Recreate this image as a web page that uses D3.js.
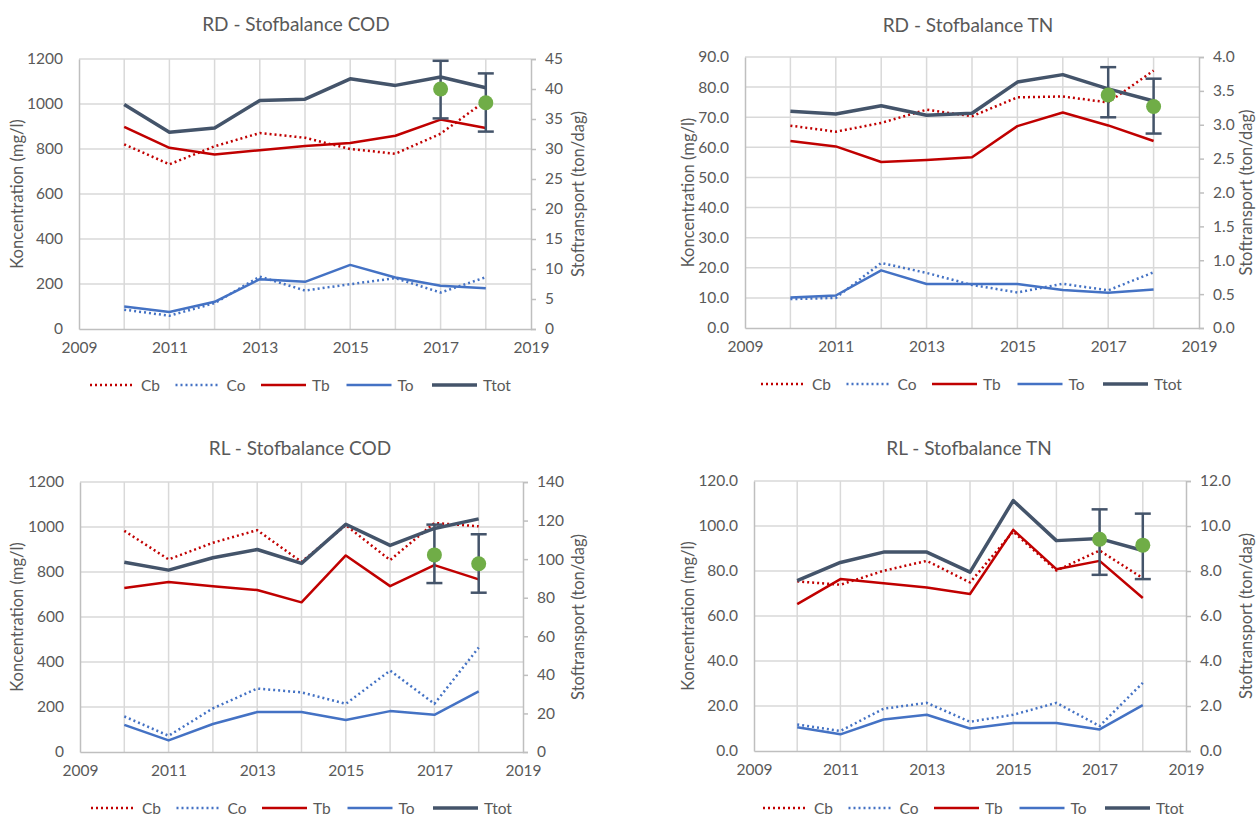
<!DOCTYPE html>
<html>
<head>
<meta charset="utf-8">
<script src="https://cdn.jsdelivr.net/npm/d3@7"></script>
<style>
  html, body { margin: 0; padding: 0; background: #ffffff; }
  svg { display: block; }
  text { font-family: Lato, "Open Sans", "DejaVu Sans", sans-serif; fill: #595959; }
</style>
</head>
<body>
<svg id="chart" width="1259" height="816"></svg>
<script>
// ---------- data ----------
const years = [2010, 2011, 2012, 2013, 2014, 2015, 2016, 2017, 2018];
const dotYears = [2017, 2018];
const xTickYears = [2009, 2011, 2013, 2015, 2017, 2019];
const seriesNames = ["Cb", "Co", "Tb", "To", "Ttot"];

// RD - COD
const rdCodCb   = [821, 732, 812, 871, 850, 800, 779, 868, 1015];
const rdCodCo   = [86, 59, 115, 233, 171, 199, 226, 162, 230];
const rdCodTb   = [33.7, 30.2, 29.1, 29.8, 30.5, 31.0, 32.2, 34.9, 33.5];
const rdCodTo   = [3.76, 2.82, 4.54, 8.30, 7.86, 10.68, 8.58, 7.20, 6.81];
const rdCodTtot = [37.4, 32.8, 33.5, 38.1, 38.3, 41.7, 40.6, 42.0, 40.2];
const rdCodDot  = [40.0, 37.7];
const rdCodLow  = [35.1, 32.9];
const rdCodHigh = [44.7, 42.6];
const rdCodLeftTicks  = [0, 200, 400, 600, 800, 1000, 1200];
const rdCodRightTicks = [0, 5, 10, 15, 20, 25, 30, 35, 40, 45];

// RD - TN
const rdTnCb   = [67.2, 65.2, 68.1, 72.5, 70.3, 76.6, 76.9, 74.9, 85.5];
const rdTnCo   = [9.6, 10.0, 21.6, 18.3, 14.3, 11.8, 14.7, 12.5, 18.5];
const rdTnTb   = [2.76, 2.68, 2.45, 2.48, 2.52, 2.98, 3.18, 2.99, 2.76];
const rdTnTo   = [0.45, 0.48, 0.85, 0.65, 0.65, 0.65, 0.56, 0.52, 0.57];
const rdTnTtot = [3.20, 3.16, 3.28, 3.14, 3.17, 3.63, 3.74, 3.53, 3.35];
const rdTnDot  = [3.44, 3.27];
const rdTnLow  = [3.11, 2.87];
const rdTnHigh = [3.85, 3.68];
const rdTnLeftTicks  = [0, 10, 20, 30, 40, 50, 60, 70, 80, 90];
const rdTnRightTicks = [0, 0.5, 1, 1.5, 2, 2.5, 3, 3.5, 4];

// RL - COD
const rlCodCb   = [983, 856, 930, 986, 845, 1008, 853, 1018, 1003];
const rlCodCo   = [158, 72, 194, 282, 265, 214, 362, 214, 464];
const rlCodTb   = [85.0, 88.1, 86.0, 84.0, 77.6, 101.9, 86.0, 96.9, 89.5];
const rlCodTo   = [14.1, 6.0, 14.5, 20.7, 20.7, 16.6, 21.2, 19.3, 31.4];
const rlCodTtot = [98.4, 94.3, 100.7, 105.0, 97.8, 118.1, 107.1, 115.9, 120.9];
const rlCodDot  = [102.2, 97.6];
const rlCodLow  = [87.6, 82.6];
const rlCodHigh = [117.9, 112.9];
const rlCodLeftTicks  = [0, 200, 400, 600, 800, 1000, 1200];
const rlCodRightTicks = [0, 20, 40, 60, 80, 100, 120, 140];

// RL - TN
const rlTnCb   = [75.4, 73.9, 80.1, 84.5, 74.9, 97.5, 80.2, 89.1, 76.8];
const rlTnCo   = [11.8, 8.9, 18.8, 21.4, 13.0, 16.1, 21.4, 11.1, 30.3];
const rlTnTb   = [6.53, 7.64, 7.46, 7.27, 6.98, 9.83, 8.08, 8.45, 6.80];
const rlTnTo   = [1.06, 0.74, 1.40, 1.61, 1.00, 1.24, 1.24, 0.96, 2.04];
const rlTnTtot = [7.57, 8.38, 8.84, 8.84, 7.95, 11.13, 9.35, 9.44, 8.91];
const rlTnDot  = [9.41, 9.15];
const rlTnLow  = [7.83, 7.64];
const rlTnHigh = [10.74, 10.55];
const rlTnLeftTicks  = [0, 20, 40, 60, 80, 100, 120];
const rlTnRightTicks = [0, 2, 4, 6, 8, 10, 12];

// ---------- styles ----------
const RED = "#c00000", BLUE = "#4472c4", DARK = "#44546a", GREEN = "#70ad47";
const GRID = "#d9d9d9", AXIS = "#bfbfbf";
const styles = {
  Cb:   { color: RED,  width: 2.5, dash: "2,3" },
  Co:   { color: BLUE, width: 2.5, dash: "2,3" },
  Tb:   { color: RED,  width: 2.5, dash: null },
  To:   { color: BLUE, width: 2.5, dash: null },
  Ttot: { color: DARK, width: 3.5, dash: null }
};

const svg = d3.select("#chart");

function drawPanel(p) {
  const g = svg.append("g");
  const x = d3.scaleLinear().domain([2009, 2019]).range([p.left, p.right]);
  const yL = d3.scaleLinear().domain([0, d3.max(p.leftTicks)]).range([p.bottom, p.top]);
  const yR = d3.scaleLinear().domain([0, d3.max(p.rightTicks)]).range([p.bottom, p.top]);

  // horizontal gridlines
  g.append("g").selectAll("line").data(p.leftTicks.filter(v => v > 0)).join("line")
    .attr("x1", p.left).attr("x2", p.right)
    .attr("y1", d => yL(d)).attr("y2", d => yL(d))
    .attr("stroke", GRID).attr("stroke-width", 1.5);
  // vertical gridlines
  g.append("g").selectAll("line").data(years).join("line")
    .attr("x1", d => x(d)).attr("x2", d => x(d))
    .attr("y1", p.top).attr("y2", p.bottom)
    .attr("stroke", GRID).attr("stroke-width", 1.5);

  // left axis
  const la = g.append("g").attr("transform", `translate(${p.left},0)`)
    .call(d3.axisLeft(yL).tickValues(p.leftTicks).tickFormat(p.fmt).tickSize(0).tickPadding(16));
  la.select(".domain").attr("stroke", AXIS).attr("stroke-width", 1.5);
  la.selectAll("text").style("font-size", "15.5px").attr("fill", "#595959");

  // right axis
  const ra = g.append("g").attr("transform", `translate(${p.right},0)`)
    .call(d3.axisRight(yR).tickValues(p.rightTicks).tickFormat(p.fmt).tickSize(5).tickPadding(9));
  ra.select(".domain").attr("stroke", AXIS).attr("stroke-width", 1.5);
  ra.selectAll(".tick line").attr("stroke", AXIS).attr("stroke-width", 1.5);
  ra.selectAll("text").style("font-size", "15.5px").attr("fill", "#595959");

  // bottom axis
  const ba = g.append("g").attr("transform", `translate(0,${p.bottom})`)
    .call(d3.axisBottom(x).tickValues(xTickYears).tickFormat(d3.format("d")).tickSize(0).tickPadding(13));
  ba.select(".domain").attr("stroke", AXIS).attr("stroke-width", 1.5);
  ba.selectAll("text").style("font-size", "15.5px").attr("fill", "#595959");

  // series
  const seriesData = { Cb: p.Cb, Co: p.Co, Tb: p.Tb, To: p.To, Ttot: p.Ttot };
  seriesNames.forEach(name => {
    const st = styles[name];
    const yS = (name[0] === "C") ? yL : yR;
    const line = d3.line().x((d, i) => x(years[i])).y(d => yS(d));
    const path = g.append("path").datum(seriesData[name])
      .attr("d", line).attr("fill", "none")
      .attr("stroke", st.color).attr("stroke-width", st.width)
      .attr("stroke-linejoin", "round");
    if (st.dash) path.attr("stroke-dasharray", st.dash);
  });

  // error bars
  const eb = g.append("g").attr("stroke", DARK).attr("stroke-width", 2.5);
  dotYears.forEach((yr, i) => {
    eb.append("line").attr("x1", x(yr)).attr("x2", x(yr))
      .attr("y1", yR(p.low[i])).attr("y2", yR(p.high[i]));
    [p.low[i], p.high[i]].forEach(v => {
      eb.append("line").attr("x1", x(yr) - 8).attr("x2", x(yr) + 8)
        .attr("y1", yR(v)).attr("y2", yR(v));
    });
  });
  // green dots
  g.append("g").selectAll("ellipse").data(p.dot).join("ellipse")
    .attr("cx", (d, i) => x(dotYears[i])).attr("cy", d => yR(d))
    .attr("rx", 7.5).attr("ry", 7.5).attr("fill", GREEN);

  // title
  g.append("text").attr("x", p.titleX).attr("y", p.titleY)
    .attr("text-anchor", "middle").attr("dominant-baseline", "central")
    .style("font-size", "19px").text(p.title);

  // axis titles
  const midY = (p.top + p.bottom) / 2;
  g.append("text").attr("transform", `translate(${p.leftTitleX},${midY}) rotate(-90)`)
    .attr("text-anchor", "middle").attr("dominant-baseline", "central")
    .style("font-size", "16.5px").text("Koncentration (mg/l)");
  g.append("text").attr("transform", `translate(${p.rightTitleX},${midY}) rotate(-90)`)
    .attr("text-anchor", "middle").attr("dominant-baseline", "central")
    .style("font-size", "16.5px").text("Stoftransport (ton/dag)");

  // legend
  const lg = g.append("g");
  seriesNames.forEach((name, i) => {
    const st = styles[name];
    const lx = p.legendX + i * 85.5;
    const ln = lg.append("line").attr("x1", lx).attr("x2", lx + 45)
      .attr("y1", p.legendY).attr("y2", p.legendY)
      .attr("stroke", st.color).attr("stroke-width", st.width);
    if (st.dash) ln.attr("stroke-dasharray", st.dash);
    lg.append("text").attr("x", lx + 51).attr("y", p.legendY)
      .attr("dominant-baseline", "central").style("font-size", "15.5px").text(name);
  });
}

const f0 = d3.format("d"), f1 = d3.format(".1f");

drawPanel({
  title: "RD - Stofbalance COD", titleX: 296, titleY: 23,
  left: 79, right: 531, top: 59, bottom: 329,
  leftTitleX: 17, rightTitleX: 578, legendX: 90, legendY: 385,
  leftTicks: rdCodLeftTicks, rightTicks: rdCodRightTicks, fmt: f0,
  Cb: rdCodCb, Co: rdCodCo, Tb: rdCodTb, To: rdCodTo, Ttot: rdCodTtot,
  dot: rdCodDot, low: rdCodLow, high: rdCodHigh
});
drawPanel({
  title: "RD - Stofbalance TN", titleX: 968, titleY: 24,
  left: 745, right: 1199, top: 57, bottom: 328,
  leftTitleX: 688, rightTitleX: 1246, legendX: 761, legendY: 384,
  leftTicks: rdTnLeftTicks, rightTicks: rdTnRightTicks, fmt: f1,
  Cb: rdTnCb, Co: rdTnCo, Tb: rdTnTb, To: rdTnTo, Ttot: rdTnTtot,
  dot: rdTnDot, low: rdTnLow, high: rdTnHigh
});
drawPanel({
  title: "RL - Stofbalance COD", titleX: 300, titleY: 447,
  left: 80, right: 523, top: 482, bottom: 752,
  leftTitleX: 17, rightTitleX: 578, legendX: 91, legendY: 808,
  leftTicks: rlCodLeftTicks, rightTicks: rlCodRightTicks, fmt: f0,
  Cb: rlCodCb, Co: rlCodCo, Tb: rlCodTb, To: rlCodTo, Ttot: rlCodTtot,
  dot: rlCodDot, low: rlCodLow, high: rlCodHigh
});
drawPanel({
  title: "RL - Stofbalance TN", titleX: 969, titleY: 447,
  left: 754, right: 1186, top: 481, bottom: 751,
  leftTitleX: 688, rightTitleX: 1246, legendX: 763, legendY: 808,
  leftTicks: rlTnLeftTicks, rightTicks: rlTnRightTicks, fmt: f1,
  Cb: rlTnCb, Co: rlTnCo, Tb: rlTnTb, To: rlTnTo, Ttot: rlTnTtot,
  dot: rlTnDot, low: rlTnLow, high: rlTnHigh
});
</script>
</body>
</html>
